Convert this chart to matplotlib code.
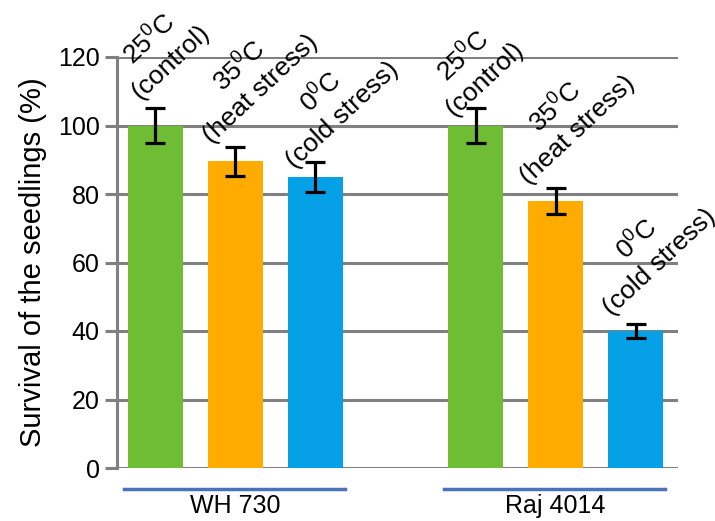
import matplotlib
matplotlib.use("Agg")
import matplotlib.pyplot as plt
import matplotlib.transforms as mtransforms

plt.rcParams['font.family'] = ['Liberation Sans', 'DejaVu Sans']
plt.rcParams['mathtext.fontset'] = 'custom'
plt.rcParams['mathtext.rm'] = 'Liberation Sans'
plt.rcParams['mathtext.it'] = 'Liberation Sans'
plt.rcParams['mathtext.bf'] = 'Liberation Sans'

# ---- data ----
groups = ["WH 730", "Raj 4014"]
conditions = ["25$^{0}$C\n(control)", "35$^{0}$C\n(heat stress)", "0$^{0}$C\n(cold stress)"]
wh730_mean = [100, 89.5, 85]
wh730_err = [5, 4.2, 4.3]
raj4014_mean = [100, 78, 40]
raj4014_err = [5, 3.7, 2]
colors = ["#6fbd34", "#ffab00", "#06a0e6"]
yticks = [0, 20, 40, 60, 80, 100, 120]

# ---- layout: small hand-placement nudges of the rotated labels (pixels) ----
label_nudge = [[(4, 7), (-4, 2), (-1, -8)],
               [(-2, -10), (-8, 2), (-5, 7)]]

W, H = 715, 521
fig = plt.figure(figsize=(W / 100, H / 100), dpi=100)
ax = fig.add_axes([117 / W, (H - 468) / H, (678 - 117) / W, (468 - 57) / H])

grid_c = "#808080"
bar_w = 0.69
label_fs = 19

all_means = [wh730_mean, raj4014_mean]
all_errs = [wh730_err, raj4014_err]
for gi, (means, errs) in enumerate(zip(all_means, all_errs)):
    base = gi * 4
    xs = [base + i for i in range(len(means))]
    ax.bar(xs, means, width=bar_w, color=colors, zorder=3)
    ax.errorbar(xs, means, yerr=errs, fmt='none', ecolor='black',
                elinewidth=2.3, capsize=7.5, capthick=2.3, zorder=4)
    for x, m, e, lab, nd in zip(xs, means, errs, conditions, label_nudge[gi]):
        ax.annotate(lab, xy=(x - 0.2, m + e - 0.8), xytext=nd,
                    textcoords='offset pixels', rotation=43,
                    rotation_mode='anchor', ha='left', va='bottom',
                    multialignment='center', fontsize=label_fs,
                    linespacing=1.3, annotation_clip=False, zorder=5)
    # group underline and label
    trans = mtransforms.blended_transform_factory(ax.transData, ax.transAxes)
    ax.plot([xs[0] - bar_w / 2 - 0.05, xs[-1] + bar_w / 2 + 0.02], [-0.051, -0.051],
            color="#4a72b8", lw=2.5, transform=trans, clip_on=False)
    ax.text(sum(xs) / len(xs), -0.092, groups[gi], transform=trans,
            ha='center', va='center', fontsize=18)

ax.set_xlim(-0.48, 6.53)
ax.set_ylim(0, 120)
ax.set_yticks(yticks)
ax.set_yticklabels([str(t) for t in yticks], fontsize=18)
ax.set_xticks([])
ax.grid(axis='y', color=grid_c, lw=2.2, zorder=1)
ax.set_axisbelow(True)
for s in ['top', 'right', 'bottom']:
    ax.spines[s].set_visible(False)
ax.spines['left'].set_color(grid_c)
ax.spines['left'].set_linewidth(2.2)
ax.tick_params(axis='y', length=8.5, width=2.2, color=grid_c, pad=4)
ax.set_ylabel("Survival of the seedlings (%)", fontsize=21, labelpad=8)

fig.savefig("out.png", dpi=100)
